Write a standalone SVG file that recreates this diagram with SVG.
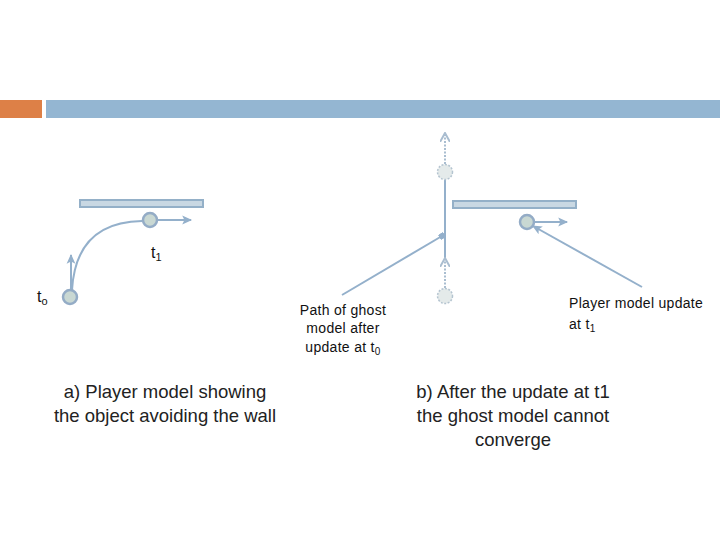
<svg xmlns="http://www.w3.org/2000/svg" width="720" height="540" viewBox="0 0 720 540">
<style>
.wall{fill:#C9D8E3;stroke:#94B0C8;stroke-width:2}
.ball{fill:#C9D8D3;stroke:#94ACC6;stroke-width:2.5}
.ghost{fill:#E4EAEA;stroke:#B4C4D0;stroke-width:1.5;stroke-dasharray:2 1.5}
.ln{fill:none;stroke:#94B0CB;stroke-width:2}
.dot{fill:none;stroke:#A9BDD0;stroke-width:2;stroke-dasharray:2 1.5}
.big{font-family:"Liberation Sans",Arial,sans-serif;font-size:18.5px;fill:#222;text-anchor:middle}
.sm{font-family:"Liberation Sans",Arial,sans-serif;font-size:14px;letter-spacing:0.3px;fill:#111}
.lbl{font-family:"Liberation Sans",Arial,sans-serif;font-size:16px;fill:#111}
</style>
<defs>
<marker id="ah" viewBox="0 0 10 10" refX="8" refY="5" markerWidth="5.5" markerHeight="5.5" orient="auto" markerUnits="strokeWidth">
<path d="M0,1 L9,5 L0,9 L2,5 Z" fill="#94B0CB"/>
</marker>
<marker id="ah2" viewBox="0 0 10 10" refX="8" refY="5" markerWidth="5" markerHeight="5" orient="auto" markerUnits="strokeWidth">
<path d="M0,0 L9,5 L0,10" fill="none" stroke="#A9BDD0" stroke-width="2"/>
</marker>
<marker id="sq" viewBox="0 0 10 10" refX="5" refY="5" markerWidth="3" markerHeight="3" orient="auto" markerUnits="strokeWidth">
<rect x="0" y="0" width="10" height="10" fill="#94B0CB"/>
</marker>
</defs>
<g id="header">
<rect x="0" y="100" width="42" height="18" fill="#DD8047"/>
<rect x="46" y="100" width="674" height="18" fill="#94B6D2"/>
</g>
<g id="connectors">
<path class="ln" d="M72,290 Q76,222 142,221"/>
<line class="ln" x1="71" y1="290" x2="71" y2="255" marker-end="url(#ah)"/>
<line class="ln" x1="157" y1="220" x2="191" y2="220" marker-end="url(#ah)"/>
<line class="dot" x1="445" y1="164" x2="445" y2="134" marker-end="url(#ah2)"/>
<line class="ln" x1="445" y1="180" x2="445" y2="258"/>
<line class="dot" x1="445" y1="288" x2="445" y2="259" marker-end="url(#ah2)"/>
<line class="ln" x1="342" y1="295" x2="442" y2="236" marker-end="url(#sq)"/>
<line class="ln" x1="534" y1="222" x2="567" y2="222" marker-end="url(#ah)"/>
<line class="ln" x1="642" y1="287" x2="533" y2="226" marker-end="url(#ah)"/>
</g>
<g id="wall-a"><rect class="wall" x="80" y="200" width="123" height="7"/></g>
<g id="ball-t1"><circle class="ball" cx="150" cy="220" r="7"/></g>
<g id="ball-t0"><circle class="ball" cx="70" cy="297" r="7"/></g>
<g id="wall-b"><rect class="wall" x="453" y="201" width="123" height="7"/></g>
<g id="ghost-top"><circle class="ghost" cx="445" cy="172" r="7.5"/></g>
<g id="ghost-bottom"><circle class="ghost" cx="445" cy="296" r="7.5"/></g>
<g id="ball-b"><circle class="ball" cx="527" cy="222" r="7"/></g>
<g id="labels">
<text class="lbl" x="151" y="258">t<tspan font-size="11" dy="3">1</tspan></text>
<text class="lbl" x="37" y="302">t<tspan font-size="11" dy="3">o</tspan></text>
<text class="sm" x="343" y="315" text-anchor="middle">Path of ghost</text>
<text class="sm" x="343" y="333" text-anchor="middle">model after</text>
<text class="sm" x="343" y="352" text-anchor="middle">update at t<tspan font-size="10" dy="3">0</tspan></text>
<text class="sm" x="569" y="308">Player model update</text>
<text class="sm" x="569" y="329">at t<tspan font-size="10" dy="3">1</tspan></text>
<text class="big" x="165" y="398">a) Player model showing</text>
<text class="big" x="165" y="422">the object avoiding the wall</text>
<text class="big" x="513" y="398">b) After the update at t1</text>
<text class="big" x="513" y="422">the ghost model cannot</text>
<text class="big" x="513" y="446">converge</text>
</g>
</svg>
